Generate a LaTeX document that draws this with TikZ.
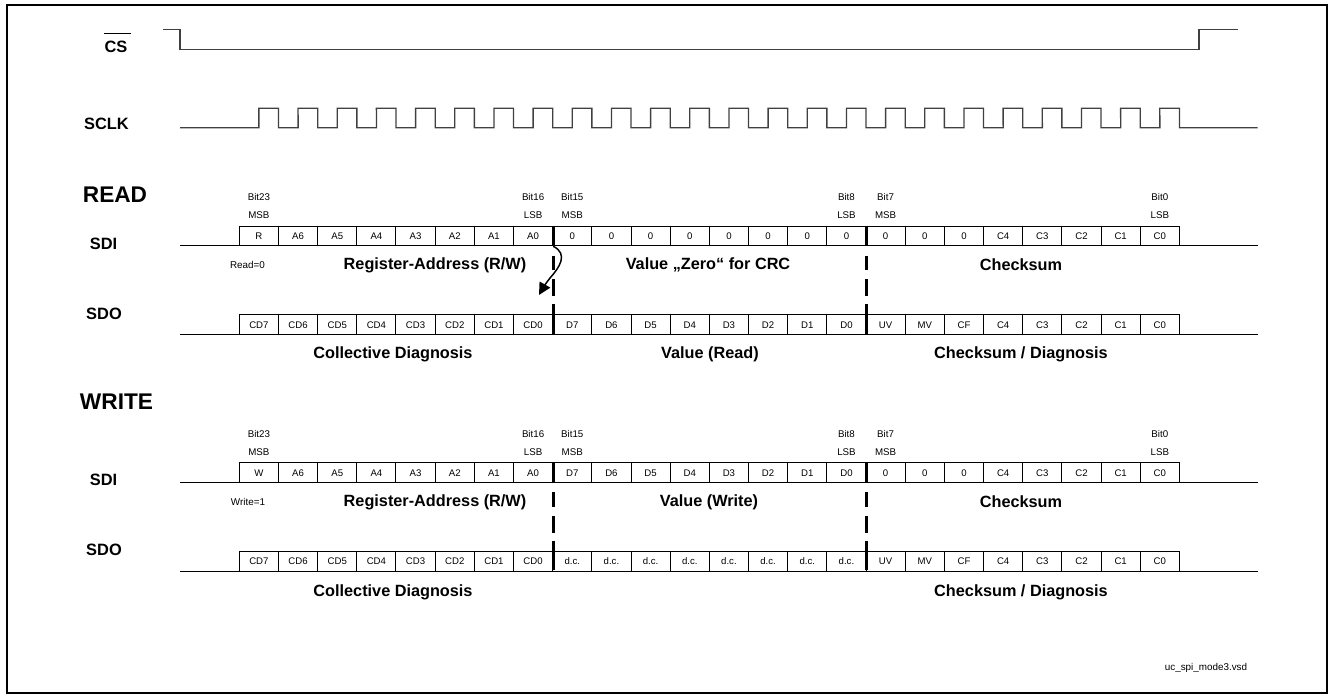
\documentclass[tikz,border=0pt]{standalone}
\usepackage{fontspec}
\setmainfont{Liberation Sans}
\usetikzlibrary{arrows.meta}

\begin{document}
\begin{tikzpicture}[x=0.75pt,y=-0.75pt,line width=0.75pt,
  cell/.style={draw,minimum width=29.38pt,minimum height=14.7pt,inner sep=0pt,text height=5.3pt,text depth=0pt,font=\fontsize{7.2}{8}\selectfont},
  bitlbl/.style={inner sep=0pt,text height=5.3pt,text depth=0pt,font=\fontsize{7.3}{8}\selectfont},
  sig/.style={black!75,line width=1pt},
  signame/.style={inner sep=0pt,font=\bfseries\fontsize{12.3}{14}\selectfont},
  mode/.style={inner sep=0pt,font=\bfseries\fontsize{17}{20}\selectfont},
  field/.style={inner sep=0pt,font=\bfseries\fontsize{12.2}{14}\selectfont},
  note/.style={inner sep=0pt,font=\fontsize{7.4}{9}\selectfont},
  sep/.style={line width=2.3pt,dash pattern=on 15pt off 7.5pt on 11pt off 6.5pt on 13pt off 6pt on 22pt}]
  \useasboundingbox (0,0) rectangle (1332,698);
  \draw[line width=1.1pt] (7,5) rectangle (1327,693);
  % CS and SCLK
  \node[signame] (cs) at (116,47) {CS};
  \draw[line width=0.9pt] ([yshift=5.6pt]cs.north west) -- ([xshift=2.5pt,yshift=5.6pt]cs.north east);
  \draw[sig] (163,29.7) -- (180,29.7) -- (180,49.3) -- (1199,49.3) -- (1199,29.7) -- (1238,29.7);
  \node[signame] (sclk) at (106.5,124) {SCLK};
  \draw[sig] (180,127.7) -- (258.9,127.7)
    \foreach \i in {0,...,23} { -- ({258.9+39.17*\i},108.3) -- ({278.5+39.17*\i},108.3)
      -- ({278.5+39.17*\i},127.7) -- ({298.1+39.17*\i},127.7) } -- (1257.7,127.7);
  % READ
  \node[mode] (read) at (115,195) {READ};
  \node[signame] (rsdil) at (103.5,244) {SDI};
  \node[signame] (rsdol) at (104,314) {SDO};
  \draw (180,246) -- (1257.7,246);
  \draw (180,334.4) -- (1257.7,334.4);
  \foreach \t [count=\i from 0] in {R,A6,A5,A4,A3,A2,A1,A0,0,0,0,0,0,0,0,0,0,0,0,C4,C3,C2,C1,C0}
    \node[cell,fill=white] (rsdi\i) at ({258.9+39.17*\i},236) {\t};
  \foreach \t [count=\i from 0] in {CD7,CD6,CD5,CD4,CD3,CD2,CD1,CD0,D7,D6,D5,D4,D3,D2,D1,D0,UV,MV,CF,C4,C3,C2,C1,C0}
    \node[cell,fill=white] (rsdo\i) at ({258.9+39.17*\i},324.7) {\t};
  \foreach \i/\b/\s in {0/23/MSB,7/16/LSB,8/15/MSB,15/8/LSB,16/7/MSB,23/0/LSB} {
    \node[bitlbl] (rbit\i) at ({258.9+39.17*\i},197) {Bit\b};
    \node[bitlbl] (rsb\i) at ({258.9+39.17*\i},215) {\s};
  }
  \draw[sep] (rsdi7.north east) -- (rsdo7.south east);
  \draw[sep] (rsdi15.north east) -- (rsdo15.south east);
  \coordinate (arrE) at (539,295);
  \draw[line width=1.1pt,-{Triangle[length=9pt,width=9pt]}] (rsdi7.south east)
    .. controls (569,254) and (559,268) .. (550,278) .. controls (546,283) and (543,288) .. (arrE);
  \node[note] (rd0) at (247.5,265) {Read=0};
  \node[field] (rreg) at (435,265) {Register-Address (R/W)};
  \node[field] (rval) at (708,265) {Value „Zero“ for CRC};
  \node[field] (rcrc) at (1021,265) {Checksum};
  \node[field] (rdiag) at (393,354) {Collective Diagnosis};
  \node[field] (rread) at (710,354) {Value (Read)};
  \node[field] (rcdiag) at (1021,354) {Checksum / Diagnosis};
  % WRITE
  \node[mode] (write) at (116.5,402) {WRITE};
  \node[signame] (wsdil) at (103.5,480) {SDI};
  \node[signame] (wsdol) at (104,550) {SDO};
  \draw (180,482.3) -- (1257.7,482.3);
  \draw (180,571) -- (1257.7,571);
  \foreach \t [count=\i from 0] in {W,A6,A5,A4,A3,A2,A1,A0,D7,D6,D5,D4,D3,D2,D1,D0,0,0,0,C4,C3,C2,C1,C0}
    \node[cell,fill=white] (wsdi\i) at ({258.9+39.17*\i},472.5) {\t};
  \foreach \t [count=\i from 0] in {CD7,CD6,CD5,CD4,CD3,CD2,CD1,CD0,d.c.,d.c.,d.c.,d.c.,d.c.,d.c.,d.c.,d.c.,UV,MV,CF,C4,C3,C2,C1,C0}
    \node[cell,fill=white] (wsdo\i) at ({258.9+39.17*\i},561.2) {\t};
  \foreach \i/\b/\s in {0/23/MSB,7/16/LSB,8/15/MSB,15/8/LSB,16/7/MSB,23/0/LSB} {
    \node[bitlbl] (wbit\i) at ({258.9+39.17*\i},433.5) {Bit\b};
    \node[bitlbl] (wsb\i) at ({258.9+39.17*\i},452) {\s};
  }
  \draw[sep] (wsdi7.north east) -- (wsdo7.south east);
  \draw[sep] (wsdi15.north east) -- (wsdo15.south east);
  \node[note] (wr1) at (248,502) {Write=1};
  \node[field] (wreg) at (435,502) {Register-Address (R/W)};
  \node[field] (wval) at (709,502) {Value (Write)};
  \node[field] (wcrc) at (1021,502) {Checksum};
  \node[field] (wdiag) at (393,592) {Collective Diagnosis};
  \node[field] (wcdiag) at (1021,592) {Checksum / Diagnosis};
  \node[note] (fname) at (1206,668) {uc\_spi\_mode3.vsd};
\end{tikzpicture}
\end{document}
